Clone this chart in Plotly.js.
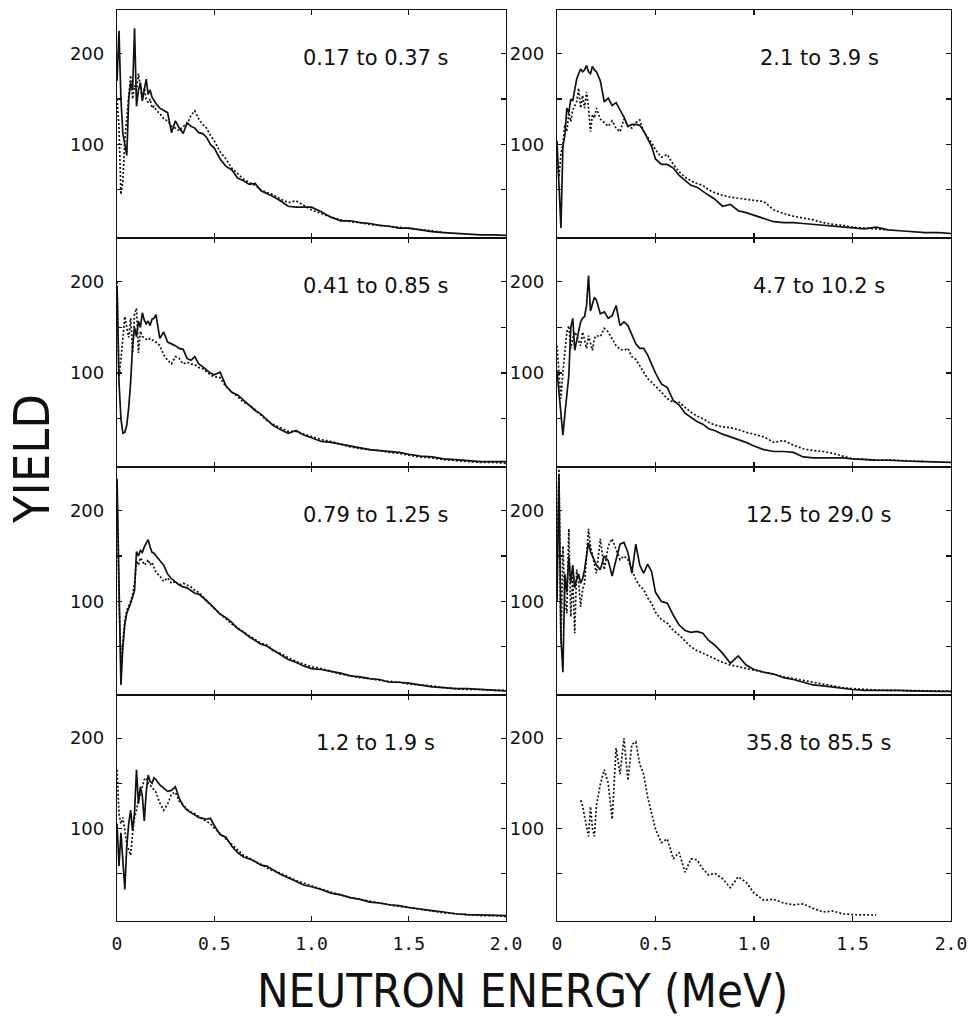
<!DOCTYPE html>
<html><head><meta charset="utf-8">
<script src="https://cdn.plot.ly/plotly-3.0.1.min.js"></script>
<style>html,body{margin:0;padding:0;background:#fff;}#chart{width:977px;height:1019px;}</style>
</head><body><div id="chart"></div>
<script>
// Neutron energy grid (MeV)
const energy = [0.00,0.01,0.02,0.03,0.04,0.05,0.06,0.07,0.08,0.09,0.10,0.11,0.12,0.13,0.14,0.15,0.16,0.17,0.18,0.19,0.20,
  0.22,0.24,0.26,0.28,0.30,0.32,0.34,0.36,0.38,0.40,0.42,0.44,0.46,0.48,0.50,
  0.53,0.56,0.59,0.62,0.65,0.68,0.71,0.74,0.77,0.80,
  0.84,0.88,0.92,0.96,1.00,
  1.05,1.10,1.15,1.20,1.25,1.30,1.35,1.40,1.45,1.50,
  1.56,1.62,1.68,1.74,1.80,
  1.87,1.94,2.00];

// 0.17 to 0.37 s
const p1Solid = [170,225,150,112,100,88,150,168,160,228,142,160,168,148,160,172,155,160,152,148,145,
  140,137,135,113,126,118,112,124,120,118,113,112,108,100,96,
  84,76,72,63,60,56,57,49,46,43,
  38,32,31,31,31,
  26,20,16,16,14,13,11,10,8,8,
  6,4,3,2,1,
  0.5,0.5,0];
const p1Dotted = [150,120,45,60,105,130,155,176,150,165,160,178,165,150,162,150,146,150,140,142,138,
  134,128,126,120,118,115,120,122,132,137,128,122,118,110,104,
  92,84,74,68,62,58,55,50,47,45,
  40,36,38,33,28,
  24,20,17,15,14,12,11,10,9,8,
  6,5,3,null,null,
  null,null,null];

// 0.41 to 0.85 s
const p2Solid = [195,90,50,34,35,43,62,90,130,150,140,157,150,166,158,154,157,152,159,160,164,
  138,145,134,132,130,127,126,116,114,118,110,107,103,100,98,
  101,86,79,76,70,65,59,55,49,43,
  38,34,37,32,29,
  25,24,22,20,18,16,15,14,13,11,
  9,8,6,5,4,
  3,3,3];
const p2Dotted = [200,96,115,143,162,150,139,160,122,165,171,122,146,140,139,137,136,138,136,135,134,
  130,120,114,110,118,116,110,112,110,109,106,105,101,98,96,
  95,85,80,74,68,65,60,54,48,44,
  40,36,36,33,30,
  27,25,22,19,17,16,15,13,12,10,
  8,7,5,4,3,
  2,2,1];

// 0.79 to 1.25 s
const p3Solid = [235,120,8,50,75,87,92,98,105,112,155,150,156,154,160,164,168,160,154,153,150,
  145,140,130,125,121,118,116,115,112,109,108,105,101,97,93,
  86,82,77,70,66,61,57,53,51,47,
  42,36,33,29,26,
  25,23,21,18,17,15,14,11,11,10,
  8,6,5,4,4,
  3,2,1.5];
const p3Dotted = [220,100,30,60,80,90,95,100,108,120,145,140,148,145,140,142,146,140,143,138,132,
  128,122,126,120,122,118,120,118,116,112,110,106,100,96,92,
  87,80,75,71,66,62,58,54,52,46,
  43,38,34,31,28,
  26,23,20,18,16,15,13,12,11,9,
  8,7,5,4,3,
  3,2,2];

// 1.2 to 1.9 s
const p4Solid = [105,58,95,60,32,80,105,120,97,118,165,127,146,136,108,140,159,152,150,156,154,
  148,145,141,142,146,133,125,120,117,115,112,111,110,111,103,
  93,90,80,73,68,66,63,59,58,54,
  49,45,41,37,35,
  32,28,26,23,21,18,17,15,14,12,
  10,8.5,7,5,4,
  3.5,3,3];
const p4Dotted = [165,116,105,112,98,82,76,70,95,112,120,132,138,146,154,156,150,148,145,142,140,
  128,120,127,138,140,130,126,121,118,116,113,110,108,105,100,
  94,88,82,75,70,67,63,60,56,53,
  50,46,42,39,36,
  33,29,26,23,21,19,17,15,13,12,
  10,8,6,5,4,
  3,3,2];

// 2.1 to 3.9 s
const p5Solid = [104,57,8,98,110,140,135,150,148,160,172,178,183,180,182,187,180,178,186,182,180,
  170,147,151,143,146,138,130,120,122,122,121,115,106,98,84,
  78,78,74,66,60,55,53,48,44,40,
  32,34,27,25,22,
  18,15,14,14,13,12,11,9.5,8.5,8,
  7,9,6,5,4,
  3,3,2];
const p5Dotted = [80,64,90,100,122,114,135,125,138,143,147,162,140,154,140,158,140,114,133,129,140,
  128,124,120,126,118,114,128,120,118,124,127,114,108,102,94,
  86,89,78,70,64,60,57,55,50,47,
  44,42,41,40,39,
  37,28,24,21,19,17,14,12,11,9,
  8,7,6,null,null,
  null,null,null];

// 4.7 to 10.2 s
const p6Solid = [103,80,50,32,55,80,97,150,160,125,136,145,156,160,162,174,207,168,175,183,180,
  165,167,160,163,174,152,156,152,142,132,127,127,120,110,100,
  88,84,70,65,56,51,47,44,39,37,
  33,30,27,24,20,
  16,14,14,13,8,7,7,7,7,6,
  5,4.5,4.4,3.5,3.3,
  3,2.5,2];
const p6Dotted = [130,100,72,101,125,145,152,127,138,145,141,135,130,145,134,127,141,134,125,138,141,
  140,149,145,138,130,126,125,127,118,115,108,100,94,90,86,
  79,72,68,68,62,57,53,50,46,43,
  41,40,38,35,33,
  30,24,26,21,17,15,14,12,9,6,
  5.5,4.5,5,4,3.5,
  3,null,null];

// 12.5 to 29.0 s
const p7Solid = [100,240,60,22,130,110,150,120,140,115,125,130,120,125,135,150,165,155,150,145,140,
  135,150,145,128,146,163,165,154,131,163,140,131,141,133,110,
  100,98,85,74,68,66,67,65,57,52,
  43,32,40,30,25,
  22,20,16,14,11,8,7,5.5,4,3,
  2,2,2.5,2,1.5,
  1,1,1];
const p7Dotted = [146,246,54,161,102,87,180,83,128,65,135,120,94,113,120,154,180,161,150,143,131,
  169,135,161,169,157,146,150,146,135,124,117,113,104,98,88,
  80,76,68,63,56,50,46,43,40,37,
  33,30,28,26,24,
  22,20,17,15,13,11,9,7,5,4,
  3,2.5,2,2,2,
  2,1.5,1];

// 35.8 to 85.5 s (dotted only)
const p8Dotted = [null,null,null,null,null,null,null,null,null,null,null,null,131,125,113,100,91,124,100,91,125,
  149,165,150,110,189,160,200,153,193,196,171,160,135,117,99,
  84,88,66,73,51,66,65,55,48,50,
  44,34,46,40,28,
  20,21,17,15,16,11,7,8,5,4,
  4,3.5,null,null,null,
  null,null,null];

const panelLabels = ['0.17 to 0.37 s','0.41 to 0.85 s','0.79 to 1.25 s','1.2 to 1.9 s',
                     '2.1 to 3.9 s','4.7 to 10.2 s','12.5 to 29.0 s','35.8 to 85.5 s'];
const xTickVals = [0,0.5,1.0,1.5,2.0];
const xTickText = ['0','0.5','1.0','1.5','2.0'];
const yTickVals = [50,100,150,200];
const yTickText = ['','100','','200'];
const xTitle = 'NEUTRON ENERGY (MeV)';
const yTitle = 'YIELD';

const solidSeries = [p1Solid,p2Solid,p3Solid,p4Solid,p5Solid,p6Solid,p7Solid,null];
const dottedSeries = [p1Dotted,p2Dotted,p3Dotted,p4Dotted,p5Dotted,p6Dotted,p7Dotted,p8Dotted];

const xDomains = [[0.1198,0.5179],[0.5701,0.9734]];
const yDomains = [[0.7664,0.9902],[0.5417,0.7664],[0.3180,0.5417],[0.0962,0.3180]];

const traces = [];
const layout = {
  width: 977, height: 1019,
  margin: {l:0, r:0, t:0, b:0},
  paper_bgcolor: '#ffffff', plot_bgcolor: '#ffffff',
  showlegend: false,
  annotations: []
};

for (let i = 0; i < 8; i++) {
  const col = i < 4 ? 0 : 1;
  const row = i % 4;
  const n = i === 0 ? '' : String(i + 1);
  const xa = 'x' + n, ya = 'y' + n;
  if (solidSeries[i]) {
    traces.push({x: energy, y: solidSeries[i], xaxis: xa, yaxis: ya, type: 'scatter', mode: 'lines',
      line: {color: '#111', width: 1.7}, connectgaps: false, hoverinfo: 'skip'});
  }
  traces.push({x: energy, y: dottedSeries[i], xaxis: xa, yaxis: ya, type: 'scatter', mode: 'lines',
    line: {color: '#111', width: 1.7, dash: '2px,2px'}, connectgaps: false, hoverinfo: 'skip'});

  layout['xaxis' + n] = {
    domain: xDomains[col], anchor: ya, range: [0, 2],
    tickmode: 'array', tickvals: xTickVals, ticktext: xTickText,
    showticklabels: row === 3,
    ticks: 'inside', ticklen: 5, tickwidth: 1.2, tickcolor: '#111',
    showline: true, linecolor: '#111', linewidth: 1.2, mirror: 'ticks',
    showgrid: false, zeroline: false, fixedrange: true,
    tickfont: {family: 'DejaVu Sans Mono', size: 18, color: '#111'},
    ticklabelstandoff: 6
  };
  layout['yaxis' + n] = {
    domain: yDomains[row], anchor: xa, range: [-3, 248],
    tickmode: 'array', tickvals: yTickVals, ticktext: yTickText,
    ticks: 'inside', ticklen: 5, tickwidth: 1.2, tickcolor: '#111',
    showline: true, linecolor: '#111', linewidth: 1.2, mirror: 'ticks',
    showgrid: false, zeroline: false, fixedrange: true,
    tickfont: {family: 'DejaVu Sans', size: 18, color: '#111'},
    ticklabelstandoff: 8
  };
  layout.annotations.push({
    xref: xa, yref: ya, x: 1.33, y: 195, text: panelLabels[i], showarrow: false,
    xanchor: 'center', yanchor: 'middle',
    font: {family: 'DejaVu Sans', size: 21, color: '#111'}
  });
}

layout.annotations.push({
  xref: 'paper', yref: 'paper', x: 522/977, y: 1 - 990/1019, text: xTitle, showarrow: false,
  xanchor: 'center', yanchor: 'middle',
  font: {family: 'DejaVu Sans Condensed, DejaVu Sans Mono', size: 47, color: '#111'}
});
layout.annotations.push({
  xref: 'paper', yref: 'paper', x: 32/977, y: 1 - 459/1019, text: yTitle, showarrow: false,
  textangle: -90, xanchor: 'center', yanchor: 'middle',
  font: {family: 'DejaVu Sans Condensed, DejaVu Sans Mono', size: 50, color: '#111'}
});

Plotly.newPlot('chart', traces, layout, {staticPlot: true, displayModeBar: false});
</script></body></html>
